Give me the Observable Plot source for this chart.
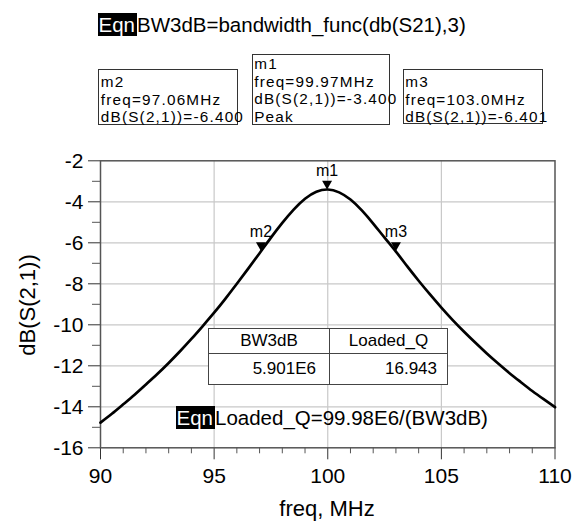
<!DOCTYPE html>
<html>
<head>
<meta charset="utf-8">
<script src="https://cdn.jsdelivr.net/npm/d3@7"></script>
<script src="https://cdn.jsdelivr.net/npm/@observablehq/plot@0.6"></script>
<style>
  body { margin: 0; background: #fff; }
  #wrap { position: relative; width: 573px; height: 524px; font-family: "Liberation Sans", Arial, sans-serif; color: #000; overflow: hidden; }
  #chart { position: absolute; left: 0; top: 0; }
  .ov { position: absolute; white-space: nowrap; }
  .eqn { background: #000; color: #fff; padding: 0 2px 0 1px; }
  .mbox { position: absolute; border: 1px solid #333; box-sizing: border-box; background: #fff; font-size: 15.3px; line-height: 17.7px; letter-spacing: 1.2px; padding-left: 1.5px; white-space: nowrap; }
  table.res { position: absolute; left: 208px; top: 328px; width: 239px; height: 57px; border-collapse: collapse; background: #fff; font-size: 17px; border: 1.5px solid #222; table-layout: fixed; }
  table.res td { border: 1px solid #444; padding: 0; }
  table.res tr.h td { text-align: center; height: 24px; }
  table.res tr.v td { text-align: right; }
  table.res tr.v td.c0 { padding-right: 13px; }
  table.res tr.v td.c1 { padding-right: 10px; }
</style>
</head>
<body>
<div id="wrap">
  <div id="chart"></div>
</div>
<script>
// ---- data ----
const freq = [90, 90.5, 91, 91.5, 92, 92.5, 93, 93.5, 94, 94.5, 95, 95.5, 96, 96.5, 97, 97.5, 98, 98.5, 99, 99.5, 100,
              100.5, 101, 101.5, 102, 102.5, 103, 103.5, 104, 104.5, 105, 105.5, 106, 106.5, 107, 107.5, 108, 108.5, 109, 109.5, 110];
const s21dB = [-14.77, -14.34, -13.88, -13.41, -12.91, -12.40, -11.86, -11.29, -10.69, -10.06, -9.41, -8.72, -8.00, -7.26, -6.51, -5.75, -5.03, -4.38, -3.85, -3.51, -3.40,
               -3.54, -3.89, -4.42, -5.06, -5.75, -6.43, -7.15, -7.85, -8.52, -9.16, -9.77, -10.34, -10.88, -11.40, -11.89, -12.36, -12.80, -13.23, -13.63, -14.02];
const markerNames = ["m2", "m1", "m3"];
const markerFreq = [97.06, 99.97, 103.0];
const markerDb = [-6.400, -3.400, -6.401];
const markerBoxLines = [
  ["m2", "freq=97.06MHz", "dB(S(2,1))=-6.400"],
  ["m1", "freq=99.97MHz", "dB(S(2,1))=-3.400", "Peak"],
  ["m3", "freq=103.0MHz", "dB(S(2,1))=-6.401"]
];
const eqnTop = "BW3dB=bandwidth_func(db(S21),3)";
const eqnBottom = "Loaded_Q=99.98E6/(BW3dB)";
const tableHeaders = ["BW3dB", "Loaded_Q"];
const tableValues = ["5.901E6", "16.943"];
const xMajor = [90, 95, 100, 105, 110];
const xMinor = d3.range(91, 110).filter(v => v % 5 !== 0);
const yMajor = [-2, -4, -6, -8, -10, -12, -14, -16];
const yMinor = [-3, -5, -7, -9, -11, -13, -15];
const xLabel = "freq, MHz";
const yLabel = "dB(S(2,1))";

// ---- chart ----
const curve = freq.map((f, i) => ({f, db: s21dB[i]}));
const markers = markerNames.map((n, i) => ({name: n, f: markerFreq[i], db: markerDb[i]}));

const chart = Plot.plot({
  width: 573,
  height: 524,
  marginLeft: 100,
  marginRight: 18.5,
  marginTop: 160.3,
  marginBottom: 76.7,
  x: {domain: [90, 110]},
  y: {domain: [-16, -2]},
  style: {fontFamily: '"Liberation Sans", Arial, sans-serif', background: "#fff", color: "#000", overflow: "visible"},
  marks: [
    Plot.gridX([95, 100, 105], {stroke: "#c8c8c8", strokeOpacity: 1, strokeWidth: 1.2}),
    Plot.gridY(yMajor.slice(1, -1), {stroke: "#c8c8c8", strokeOpacity: 1, strokeWidth: 1.2}),
    Plot.axisY(yMajor, {tickSize: 12, tickPadding: 5, tickFormat: d => String(d), fontSize: 21, label: null, stroke: "#333"}),
    Plot.axisY(yMinor, {tickSize: 8, tickFormat: () => "", label: null, stroke: "#555"}),
    Plot.axisX(xMajor, {tickSize: 12, tickPadding: 8, tickFormat: d => String(d), fontSize: 21, label: null, stroke: "#333"}),
    Plot.axisX(xMinor, {tickSize: 6, tickFormat: () => "", label: null, stroke: "#555"}),
    Plot.frame({stroke: "#555", strokeWidth: 1.5}),
    Plot.line(curve, {x: "f", y: "db", stroke: "#000", strokeWidth: 2.7, curve: "natural"}),
    Plot.dot(markers, {x: "f", y: "db", symbol: "triangle", rotate: 180, r: 3.7, fill: "#000", stroke: "none", dy: -5.8}),
    Plot.text(markers, {x: "f", y: "db", text: "name", dy: -19, fontSize: 16, fill: "#000"})
  ]
});
const wrap = document.getElementById("wrap");
document.getElementById("chart").appendChild(chart);

function addDiv(html, style) {
  const d = document.createElement("div");
  d.className = "ov";
  d.innerHTML = html;
  Object.assign(d.style, style);
  wrap.appendChild(d);
  return d;
}
// top equation
addDiv(`<span class="eqn">Eqn</span>${eqnTop}`, {left: "97.5px", top: "11.7px", fontSize: "20.5px", lineHeight: "25px"});
// marker boxes
const boxGeom = [
  {left: 98.3, top: 69.3, width: 140, height: 55.7, pad: 2.5},
  {left: 251.7, top: 54, width: 138.3, height: 71, pad: 0},
  {left: 402.7, top: 69.3, width: 140, height: 55, pad: 2.5}
];
markerBoxLines.forEach((lines, i) => {
  const g = boxGeom[i];
  const d = document.createElement("div");
  d.className = "mbox";
  Object.assign(d.style, {left: g.left + "px", top: g.top + "px", width: g.width + "px", height: g.height + "px", paddingTop: g.pad + "px"});
  d.innerHTML = lines.map(l => `<div>${l}</div>`).join("");
  wrap.appendChild(d);
});
// result table
const t = document.createElement("table");
t.className = "res";
t.innerHTML = `<colgroup><col style="width:121px"><col style="width:118px"></colgroup>` +
  `<tr class="h">${tableHeaders.map(h => `<td>${h}</td>`).join("")}</tr>` +
  `<tr class="v">${tableValues.map((v, i) => `<td class="c${i}">${v}</td>`).join("")}</tr>`;
wrap.appendChild(t);
// bottom equation
addDiv(`<span class="eqn">Eqn</span>${eqnBottom}`, {left: "175.5px", top: "402.7px", fontSize: "20.5px", lineHeight: "29.6px"});
// axis labels
addDiv(xLabel, {left: "327px", top: "509px", fontSize: "22px", transform: "translate(-50%, -50%)"});
addDiv(yLabel, {left: "27.5px", top: "305px", fontSize: "22px", transform: "translate(-50%, -50%) rotate(-90deg)"});
</script>
</body>
</html>
